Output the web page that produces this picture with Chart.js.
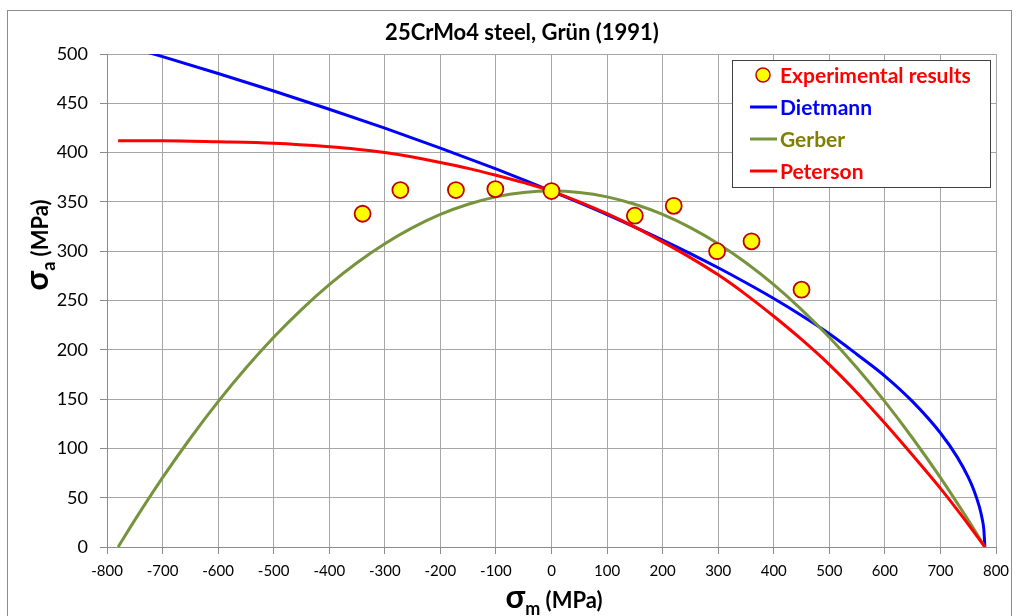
<!DOCTYPE html>
<html>
<head>
<meta charset="utf-8">
<script src="https://cdn.jsdelivr.net/npm/chart.js@4.4.1/dist/chart.umd.min.js"></script>
<style>
  html, body { margin: 0; padding: 0; background: #ffffff; }
  #wrap { width: 1020px; height: 616px; }
</style>
</head>
<body>
<div id="wrap"><canvas id="c" width="1020" height="616"></canvas></div>
<script>
// Experimental results (mean stress, stress amplitude), MPa
const expMean = [-340, -272, -172, -101, 0, 150, 220, 298, 360, 450];
const expAmp  = [338, 362, 362, 363, 361, 336, 346, 300, 310, 261];

// Dietmann curve
const dietMean = [-780, -700, -600, -500, -400, -300, -200, -100, -50, 0, 50, 100, 150, 200, 250, 300, 350, 400, 450, 500, 550, 600, 650, 700, 730, 750, 760, 770, 775, 778, 780];
const dietAmp  = [510.5, 497.3, 480.2, 462.5, 444.0, 424.8, 404.6, 383.4, 372.4, 361, 349.2, 337.1, 324.4, 311.3, 297.6, 283.2, 268.0, 252.0, 234.8, 216.3, 195.3, 173.4, 147.4, 115.6, 91.4, 70.8, 57.8, 40.9, 28.9, 18.3, 0];

// Gerber curve
const gerbMean = [-780, -750, -700, -650, -600, -550, -500, -450, -400, -350, -300, -250, -200, -150, -100, -50, 0, 50, 100, 150, 200, 250, 300, 350, 400, 450, 500, 550, 600, 650, 700, 750, 780];
const gerbAmp  = [0, 27.2, 70.3, 110.3, 147.4, 181.5, 212.7, 240.8, 266.1, 288.3, 307.6, 323.9, 337.3, 347.6, 355.1, 359.5, 361, 359.5, 355.1, 347.6, 337.3, 323.9, 307.6, 288.3, 266.1, 240.8, 212.7, 181.5, 147.4, 110.3, 70.3, 27.2, 0];

// Peterson curve
const petMean = [-780, -700, -600, -500, -400, -350, -300, -250, -200, -150, -100, -50, 0, 50, 100, 150, 200, 250, 300, 350, 400, 450, 500, 550, 600, 650, 700, 740, 780];
const petAmp  = [412, 412, 411, 409.5, 406, 403.5, 400, 395.5, 390, 384, 377, 369.5, 361, 350, 338, 324.5, 309.5, 293.5, 276, 256, 234, 210.5, 185, 156.5, 125.5, 93, 59.5, 30.5, 0];

// Axis ticks
const xMin = -800, xMax = 800, xStep = 100;
const yMin = 0, yMax = 500, yStep = 50;

const titleText = '25CrMo4 steel, Grün (1991)';
const legendNames = ['Experimental results', 'Dietmann', 'Gerber', 'Peterson'];

const pts = (xs, ys) => xs.map((x, i) => ({ x: x, y: ys[i] }));

const COL_DIET = '#0000ff';
const COL_GERB = '#77933c';
const COL_PET = '#ff0000';
const FONT = 'Lato, "Open Sans", sans-serif';

// Frame, title, axis titles and legend box
const decorations = {
  id: 'decorations',
  beforeDraw(chart) {
    const ctx = chart.ctx;
    ctx.save();
    ctx.fillStyle = '#ffffff';
    ctx.fillRect(0, 0, chart.width, chart.height);
    ctx.strokeStyle = '#8c8c8c';
    ctx.lineWidth = 1;
    ctx.strokeRect(7.5, 10.5, 1004, 640);
    ctx.restore();
  },
  afterDraw(chart) {
    const ctx = chart.ctx;
    ctx.save();

    // title
    ctx.fillStyle = '#000000';
    ctx.font = 'bold 22px ' + FONT;
    ctx.textAlign = 'center';
    ctx.textBaseline = 'middle';
    ctx.fillText(titleText, 522, 33);

    // composite label: big sigma, subscript, unit
    function sigmaLabel(sub, cx, cy) {
      const fSig = 'bold 32px ' + FONT;
      const fSub = 'bold 18px ' + FONT;
      const fUnit = 'bold 22px ' + FONT;
      ctx.font = fSig; const wS = ctx.measureText('σ').width;
      ctx.font = fSub; const wB = ctx.measureText(sub).width;
      ctx.font = fUnit; const wU = ctx.measureText(' (MPa)').width;
      let x = cx - (wS + wB + wU) / 2;
      ctx.textAlign = 'left';
      ctx.textBaseline = 'alphabetic';
      ctx.font = fSig; ctx.fillText('σ', x, cy); x += wS;
      ctx.font = fSub; ctx.fillText(sub, x, cy + 7); x += wB;
      ctx.font = fUnit; ctx.fillText(' (MPa)', x, cy);
    }
    ctx.fillStyle = '#000000';
    sigmaLabel('m', 554, 608);
    ctx.save();
    ctx.translate(48, 245);
    ctx.rotate(-Math.PI / 2);
    sigmaLabel('a', 0, 0);
    ctx.restore();

    // legend
    const lx = 732, ly = 60, lw = 258, lh = 127;
    ctx.fillStyle = '#ffffff';
    ctx.fillRect(lx, ly, lw, lh);
    ctx.strokeStyle = '#404040';
    ctx.lineWidth = 1;
    ctx.strokeRect(lx + 0.5, ly + 0.5, lw, lh);
    const rows = [75, 107, 139, 171];
    const textCols = ['#ff0000', '#0000ff', '#808000', '#ff0000'];
    const lineCols = [null, COL_DIET, COL_GERB, COL_PET];
    ctx.font = 'bold 21px ' + FONT;
    ctx.textAlign = 'left';
    ctx.textBaseline = 'middle';
    rows.forEach((y, i) => {
      if (i === 0) {
        ctx.beginPath();
        ctx.arc(763, y, 7, 0, Math.PI * 2);
        ctx.fillStyle = '#ffff00';
        ctx.fill();
        ctx.strokeStyle = '#c00000';
        ctx.lineWidth = 1.5;
        ctx.stroke();
      } else {
        ctx.beginPath();
        ctx.moveTo(750, y);
        ctx.lineTo(777, y);
        ctx.strokeStyle = lineCols[i];
        ctx.lineWidth = 3;
        ctx.stroke();
      }
      ctx.fillStyle = textCols[i];
      ctx.fillText(legendNames[i], 780, y + 1);
    });
    ctx.restore();
  }
};

const lineStyle = (color) => ({
  showLine: true,
  borderColor: color,
  backgroundColor: color,
  borderWidth: 3,
  pointRadius: 0,
  pointHoverRadius: 0,
  cubicInterpolationMode: 'monotone',
  fill: false
});

new Chart(document.getElementById('c'), {
  type: 'scatter',
  data: {
    datasets: [
      {
        label: legendNames[0],
        data: pts(expMean, expAmp),
        pointRadius: 8,
        pointBackgroundColor: '#ffff00',
        pointBorderColor: '#c00000',
        pointBorderWidth: 1.8,
        showLine: false
      },
      Object.assign({ label: legendNames[3], data: pts(petMean, petAmp) }, lineStyle(COL_PET)),
      Object.assign({ label: legendNames[2], data: pts(gerbMean, gerbAmp) }, lineStyle(COL_GERB)),
      Object.assign({ label: legendNames[1], data: pts(dietMean, dietAmp) }, lineStyle(COL_DIET))
    ]
  },
  options: {
    responsive: false,
    animation: false,
    devicePixelRatio: 1,
    layout: { padding: { left: 0, right: 24, top: 54, bottom: 24 } },
    plugins: {
      legend: { display: false },
      title: { display: false },
      tooltip: { enabled: false }
    },
    scales: {
      x: {
        type: 'linear',
        min: xMin, max: xMax,
        afterFit(s) { s.height = 45; },
        ticks: {
          stepSize: xStep,
          color: '#000000',
          padding: 8,
          maxRotation: 0,
          font: { family: FONT, size: 15 }
        },
        grid: { color: '#a6a6a6', lineWidth: 1, tickLength: 7, tickColor: '#8c8c8c' },
        border: { color: '#8c8c8c', width: 1 }
      },
      y: {
        type: 'linear',
        min: yMin, max: yMax,
        afterFit(s) { s.width = 107; },
        ticks: {
          stepSize: yStep,
          color: '#000000',
          padding: 12,
          font: { family: FONT, size: 18 }
        },
        grid: { color: '#a6a6a6', lineWidth: 1, tickLength: 7, tickColor: '#8c8c8c' },
        border: { color: '#8c8c8c', width: 1 }
      }
    }
  },
  plugins: [decorations]
});
</script>
</body>
</html>
